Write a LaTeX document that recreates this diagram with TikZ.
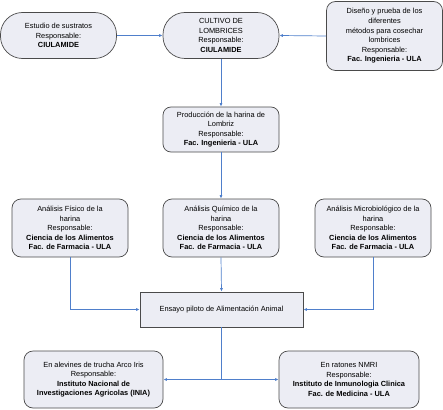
\documentclass[tikz,border=0pt]{standalone}
\usepackage{fontspec}
\setmainfont{Liberation Sans}
\usetikzlibrary{arrows.meta}
\definecolor{boxfill}{HTML}{ECEDF4}
\definecolor{boxline}{HTML}{4A4A4A}
\definecolor{conn}{HTML}{4F7FCB}
\begin{document}
\begin{tikzpicture}[x=1pt,y=-1pt,
  every node/.style={font=\fontsize{7.4}{9.6}\selectfont, align=center, inner sep=0pt},
  box/.style={draw=boxline, fill=boxfill, line width=0.7pt, rounded corners=9pt},
  pill/.style={box, rounded corners=22pt},
  plainbox/.style={draw=boxline, fill=boxfill, line width=0.7pt},
  conn/.style={draw=conn, line width=0.7pt, -{Latex[length=3.5pt,width=3pt]}},
  connl/.style={draw=conn, line width=0.7pt}]
\useasboundingbox (0,0) rectangle (443,409);
\node[pill, minimum width=116pt, minimum height=46pt] (est) at (58.5,35.5)
  {Estudio de sustratos\\Responsable:\\\textbf{CIULAMIDE}};
\node[pill, minimum width=116pt, minimum height=46pt] (cul) at (221,35.5)
  {CULTIVO DE\\LOMBRICES\\Responsable:\\\textbf{CIULAMIDE}};
\node[box, minimum width=116pt, minimum height=69pt] (dis) at (384.5,36)
  {Diseño y prueba de los\\diferentes\\métodos para cosechar\\lombrices\\Responsable:\\\textbf{Fac. Ingenieria - ULA}};
\node[box, minimum width=116pt, minimum height=45pt, rounded corners=8pt] (pro) at (221,129.5)
  {Producción de la harina de\\Lombriz\\Responsable:\\\textbf{Fac. Ingenieria - ULA}};
\node[box, minimum width=116pt, minimum height=58pt] (fis) at (70,228)
  {Análisis Físico de la\\harina\\Responsable:\\\textbf{Ciencia de los Alimentos}\\\textbf{Fac. de Farmacia - ULA}};
\node[box, minimum width=116pt, minimum height=58pt] (qui) at (221,228)
  {Análisis Químico de la\\harina\\Responsable:\\\textbf{Ciencia de los Alimentos}\\\textbf{Fac. de Farmacia - ULA}};
\node[box, minimum width=116pt, minimum height=58pt] (mic) at (373,228)
  {Análisis Microbiológico de la\\harina\\Responsable:\\\textbf{Ciencia de los Alimentos}\\\textbf{Fac. de Farmacia - ULA}};
\node[plainbox, minimum width=163pt, minimum height=35pt] (ens) at (221.5,309.5)
  {Ensayo piloto de Alimentación Animal};
\node[box, minimum width=139pt, minimum height=57pt] (ale) at (93.5,379.5)
  {En alevines de trucha Arco Iris\\Responsable:\\\textbf{Instituto Nacional de}\\\textbf{Investigaciones Agricolas (INIA)}};
\node[box, minimum width=140pt, minimum height=57pt] (rat) at (349,379.5)
  {En ratones NMRI\\Responsable:\\\textbf{Instituto de Inmunologia Clinica}\\\textbf{Fac. de Medicina - ULA}};
\coordinate (j) at (ens.south |- ale.east);
\draw[conn] (est.east) -- (cul.west);
\draw[conn] (dis.west) -- (cul.east);
\draw[conn] (cul.south) -- (pro.north);
\draw[conn] (pro.south) -- (qui.north);
\draw[conn] (qui.south) -- (ens.north);
\draw[conn] (fis.south) |- (ens.west);
\draw[conn] (mic.south) |- (ens.east);
\draw[connl] (ens.south) -- (j);
\draw[conn] (j) -- (ale.east);
\draw[conn] (j) -- (rat.west);
\end{tikzpicture}
\end{document}
